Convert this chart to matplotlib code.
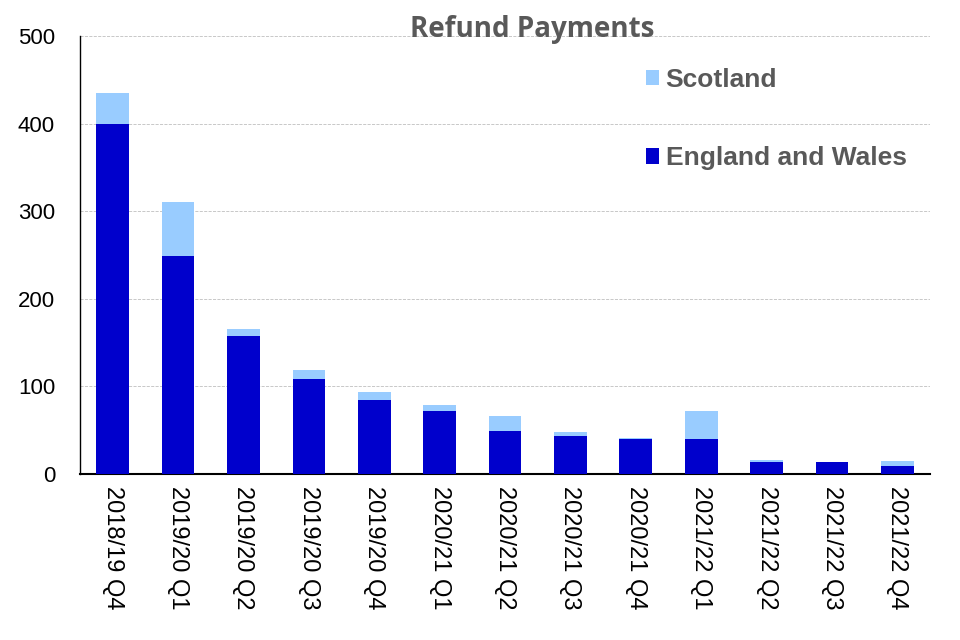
import matplotlib.pyplot as plt
import numpy as np

# Valores
trimestres = ['2018/19 Q4', '2019/20 Q1', '2019/20 Q2', '2019/20 Q3', '2019/20 Q4',
              '2020/21 Q1', '2020/21 Q2', '2020/21 Q3', '2020/21 Q4', '2021/22 Q1',
              '2021/22 Q2', '2021/22 Q3', '2021/22 Q4']
inglaterra_gales = [400, 249, 158, 109, 84, 72, 49, 43, 40, 40, 14, 14, 9]
escocia = [35, 61, 7, 10, 10, 7, 17, 5, 1.5, 32, 2.5, 0, 5.5]

cor_eng = '#0000CC'
cor_esc = '#99CCFF'
cinza = '#595959'

fig = plt.figure(figsize=(9.6, 6.4), dpi=100)
ax = fig.add_axes([80 / 960, 1 - 474 / 640, 850 / 960, 438 / 640])

x = np.arange(len(trimestres))
b1 = ax.bar(x, inglaterra_gales, width=0.5, color=cor_eng, label='England and Wales', zorder=3)
b2 = ax.bar(x, escocia, width=0.5, bottom=inglaterra_gales, color=cor_esc, label='Scotland', zorder=3)

ax.set_xlim(-0.5, len(trimestres) - 0.5)
ax.set_ylim(0, 500)
ax.set_yticks([0, 100, 200, 300, 400, 500])
ax.set_xticks(x)
ax.set_xticklabels(trimestres, rotation=-90, fontsize=17, family='Liberation Sans')
for lbl in ax.get_yticklabels():
    lbl.set_fontsize(16)
    lbl.set_family('Liberation Sans')
ax.tick_params(length=0, pad=9)
ax.tick_params(axis='y', pad=18)

ax.grid(axis='y', color='#BFBFBF', linestyle='--', linewidth=0.6, zorder=0)
ax.spines['top'].set_visible(False)
ax.spines['right'].set_visible(False)
ax.spines['left'].set_linewidth(1.0)
ax.spines['bottom'].set_linewidth(1.5)

# Legenda (Scotland em cima)
leg = ax.legend([b2, b1], ['Scotland', 'England and Wales'], loc='upper left',
                bbox_to_anchor=(622 / 960, 1 - 44 / 640), bbox_transform=fig.transFigure,
                frameon=False, handlelength=0.5, handleheight=0.5, handletextpad=0.25,
                labelspacing=2.07, prop={'family': 'Liberation Sans', 'weight': 'bold', 'size': 19})
for t in leg.get_texts():
    t.set_color(cinza)

fig.text(532 / 960, 1 - 29 / 640, 'Refund Payments', ha='center', va='center',
         fontsize=20, fontweight='bold', family='Open Sans', color=cinza)

plt.savefig('out.png', dpi=100)
